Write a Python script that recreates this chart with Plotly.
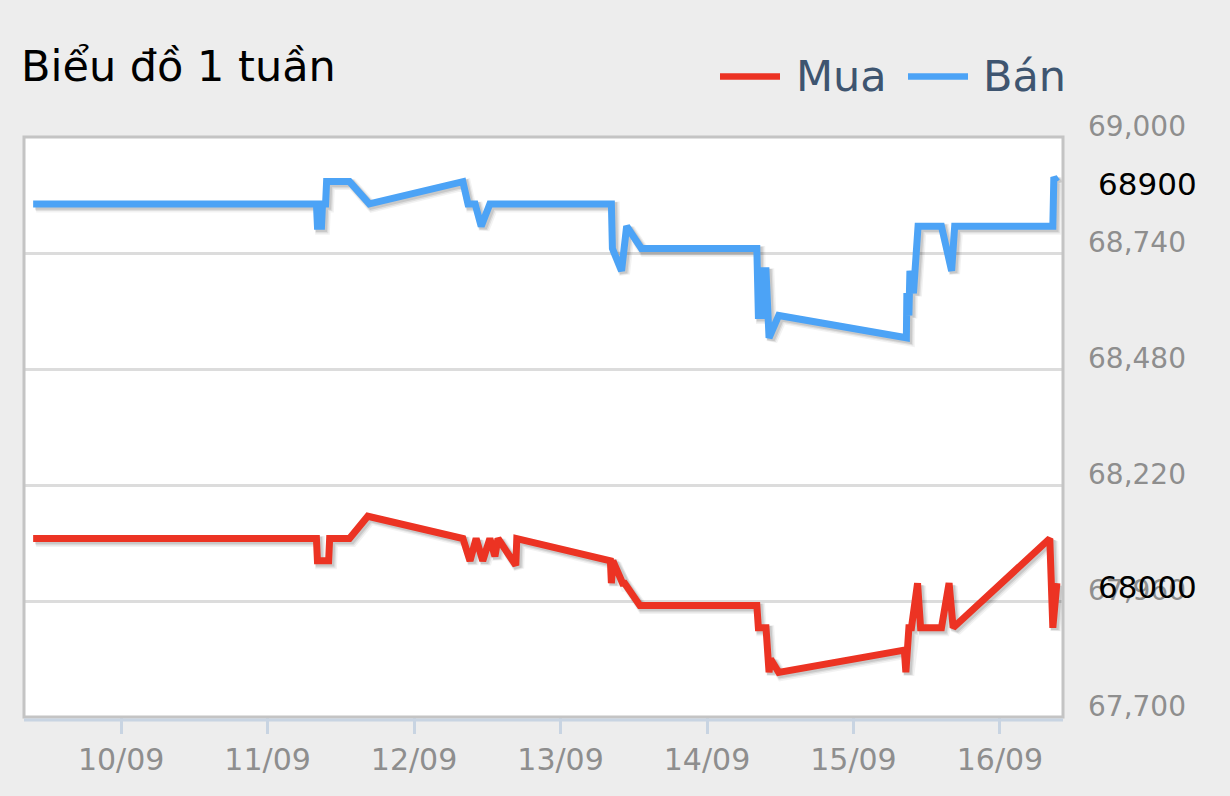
import pandas as pd
import plotly.graph_objects as go

title_text = "Biểu đồ 1 tuần"
series_names = ["Mua", "Bán"]
series_colors = ["#EC3323", "#4CA3F6"]

mua_time = [
    "2023-09-09 09:35", "2023-09-11 08:00", "2023-09-11 08:10", "2023-09-11 10:00",
    "2023-09-11 10:10", "2023-09-11 13:25", "2023-09-11 16:25", "2023-09-12 08:00",
    "2023-09-12 09:10", "2023-09-12 10:10", "2023-09-12 11:15", "2023-09-12 12:25",
    "2023-09-12 13:15", "2023-09-12 13:45", "2023-09-12 16:40", "2023-09-12 16:50",
    "2023-09-13 08:10", "2023-09-13 08:20", "2023-09-13 08:35", "2023-09-13 10:10",
    "2023-09-13 10:30", "2023-09-13 13:00", "2023-09-14 08:10", "2023-09-14 08:25",
    "2023-09-14 09:40", "2023-09-14 10:10", "2023-09-14 10:25", "2023-09-14 11:45",
    "2023-09-15 08:20", "2023-09-15 08:35", "2023-09-15 09:05", "2023-09-15 09:30",
    "2023-09-15 10:30", "2023-09-15 11:00", "2023-09-15 14:25", "2023-09-15 15:40",
    "2023-09-15 16:20", "2023-09-16 08:10", "2023-09-16 08:40", "2023-09-16 09:20",
]
mua_value = [
    68100, 68100, 68050, 68050,
    68100, 68100, 68150, 68100,
    68050, 68100, 68050, 68100,
    68060, 68100, 68040, 68100,
    68050, 68000, 68050, 68000,
    68000, 67950, 67950, 67900,
    67900, 67800, 67830, 67800,
    67850, 67800, 67900, 67900,
    68000, 67900, 67900, 68000,
    67900, 68100, 67900, 68000,
]

ban_time = [
    "2023-09-09 09:35", "2023-09-11 08:00", "2023-09-11 08:10", "2023-09-11 08:50",
    "2023-09-11 09:00", "2023-09-11 09:30", "2023-09-11 09:40", "2023-09-11 13:25",
    "2023-09-11 16:40", "2023-09-12 08:00", "2023-09-12 08:50", "2023-09-12 10:00",
    "2023-09-12 11:00", "2023-09-12 12:25", "2023-09-13 08:20", "2023-09-13 08:30",
    "2023-09-13 10:00", "2023-09-13 10:50", "2023-09-13 13:15", "2023-09-14 08:10",
    "2023-09-14 08:25", "2023-09-14 09:00", "2023-09-14 09:10", "2023-09-14 09:40",
    "2023-09-14 10:10", "2023-09-14 11:45", "2023-09-15 08:40", "2023-09-15 08:45",
    "2023-09-15 09:05", "2023-09-15 09:15", "2023-09-15 09:50", "2023-09-15 10:35",
    "2023-09-15 14:25", "2023-09-15 16:05", "2023-09-15 16:35", "2023-09-16 08:40",
    "2023-09-16 08:50", "2023-09-16 09:20",
]
ban_value = [
    68850, 68850, 68800, 68800,
    68850, 68850, 68900, 68900,
    68850, 68900, 68850, 68850,
    68800, 68850, 68850, 68750,
    68700, 68800, 68750, 68750,
    68600, 68600, 68700, 68700,
    68550, 68600, 68550, 68650,
    68600, 68700, 68650, 68800,
    68800, 68700, 68800, 68800,
    68910, 68900,
]

x_ticks = ["2023-09-10", "2023-09-11", "2023-09-12", "2023-09-13",
           "2023-09-14", "2023-09-15", "2023-09-16"]
x_tick_labels = ["10/09", "11/09", "12/09", "13/09", "14/09", "15/09", "16/09"]
x_range = ["2023-09-09 08:05", "2023-09-16 10:20"]
y_ticks = [69000, 68740, 68480, 68220, 67960, 67700]
y_range = [67700, 69000]

W, H = 1230, 796
L, R, T, B = 24, 167, 137, 79
pw = W - L - R
ph = H - T - B


def px(x):
    return (x - L) / pw


def py(y):
    return (H - B - y) / ph


FONT = "DejaVu Sans"

fig = go.Figure()

series = [(mua_time, mua_value), (ban_time, ban_value)]
for (times, values), name, color in zip(series, series_names, series_colors):
    t = pd.to_datetime(pd.Series(times))
    # soft drop shadow under the line, shifted a couple of pixels down-right
    for shift, width, alpha in [(3, 11, 0.05), (2.5, 9, 0.08), (2, 7.5, 0.1)]:
        fig.add_trace(go.Scatter(
            x=t + pd.Timedelta(minutes=9.8 * shift),
            y=[v - 2.24 * shift for v in values],
            mode="lines",
            line=dict(color=f"rgba(0,0,0,{alpha})", width=width),
            hoverinfo="skip", showlegend=False))
    fig.add_trace(go.Scatter(
        x=t, y=values, name=name, mode="lines",
        line=dict(color=color, width=7), showlegend=False))

annotations = []
for v in y_ticks:
    annotations.append(dict(
        x=1, xref="paper", y=v, yref="y", text=f"{v:,}",
        xanchor="left", yanchor="middle", xshift=23, yshift=11,
        showarrow=False, font=dict(family=FONT, size=28, color="#8E8E8E")))

# last value tags on the right side
for values, ys in [(ban_value, -2), (mua_value, -4)]:
    annotations.append(dict(
        x=1, xref="paper", y=values[-1], yref="y", text=f"{values[-1]}",
        xanchor="left", yanchor="middle", xshift=33, yshift=ys,
        showarrow=False, font=dict(family=FONT, size=31, color="#000000")))

shapes = [
    dict(type="rect", xref="paper", yref="paper", x0=0, x1=1, y0=0, y1=1,
         line=dict(color="#C4C4C4", width=3), layer="above"),
    dict(type="line", xref="paper", yref="paper", x0=0, x1=1,
         ysizemode="pixel", yanchor=0, y0=-3, y1=-3,
         line=dict(color="#C8D4E2", width=3), layer="above"),
]

# legend drawn by hand so the symbol lines are as long as in the original
legend_pos = [(720, 780, 794), (908, 968, 981)]
for (x0, x1, xt), name, color in zip(legend_pos, series_names, series_colors):
    shapes.append(dict(type="line", xref="paper", yref="paper",
                       x0=px(x0), x1=px(x1), y0=py(76.5), y1=py(76.5),
                       line=dict(color=color, width=6.5)))
    annotations.append(dict(
        x=px(xt), xref="paper", y=py(76), yref="paper", text=name,
        xanchor="left", yanchor="middle", showarrow=False,
        font=dict(family=FONT, size=43, color="#3E5570")))

fig.update_layout(
    width=W, height=H,
    margin=dict(l=L, r=R, t=T, b=B),
    paper_bgcolor="#EDEDED",
    plot_bgcolor="#FFFFFF",
    title=dict(text=title_text, x=21 / W, xref="container", xanchor="left",
               y=1 - 66 / H, yref="container", yanchor="middle",
               font=dict(family=FONT, size=43, color="#000000")),
    showlegend=False,
    annotations=annotations,
    shapes=shapes,
    xaxis=dict(type="date", range=x_range, tickvals=x_ticks, ticktext=x_tick_labels,
               ticks="outside", ticklen=16, tickwidth=2.5, tickcolor="#C8D4E2",
               showgrid=False, zeroline=False, showline=False,
               ticklabelstandoff=0,
               tickfont=dict(family=FONT, size=30, color="#8E8E8E")),
    yaxis=dict(range=y_range, tickvals=y_ticks, showticklabels=False,
               showgrid=True, gridcolor="#DCDCDC", gridwidth=3,
               zeroline=False, showline=False, ticks=""),
)

# the page adds a default 8px body margin; drop it so the figure fills the window
fig.write_html("out.html",
               config={"displayModeBar": False},
               post_script="document.body.style.margin='0';"
                           "document.body.style.background='#EDEDED';")
